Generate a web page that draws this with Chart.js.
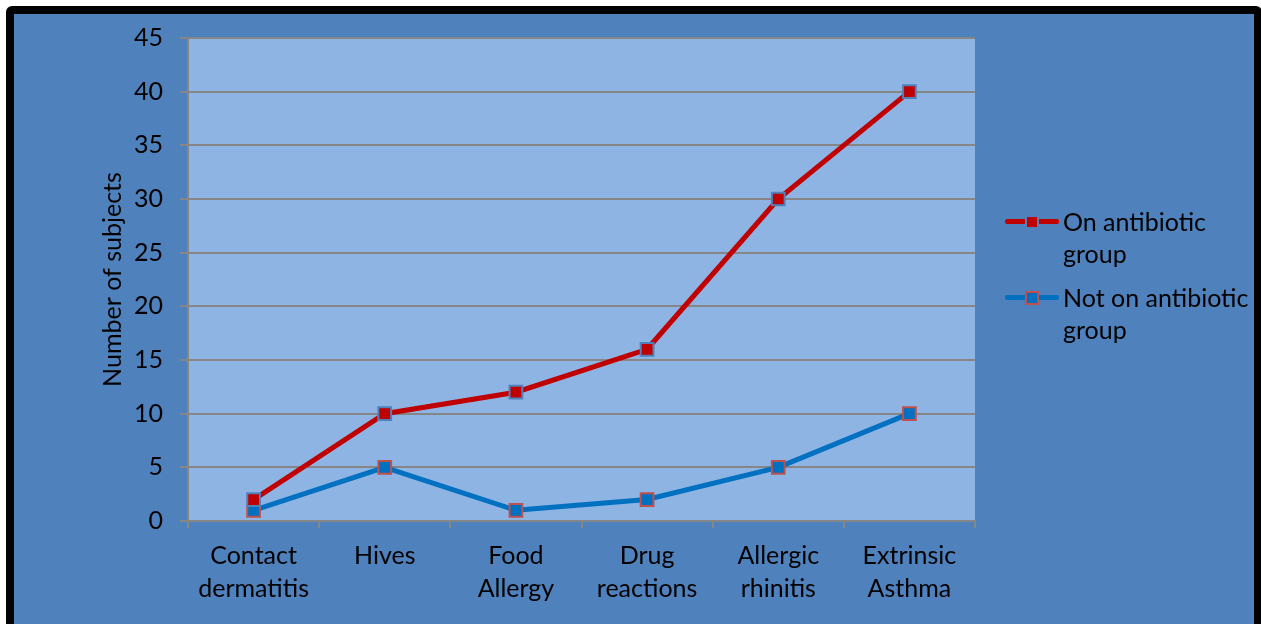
<!DOCTYPE html>
<html>
<head>
<meta charset="utf-8">
<script src="https://cdn.jsdelivr.net/npm/chart.js@4"></script>
<style>
  html, body { margin: 0; padding: 0; background: #fff; overflow: hidden; }
  #frame {
    position: absolute; left: 6px; top: 6px; width: 1256px; height: 650px;
    box-sizing: border-box; border: 8px solid #000; border-radius: 6px;
    background: #4F81BD;
  }
  #wrap { position: absolute; left: 0; top: 0; width: 1261px; height: 624px; }
  #legend {
    position: absolute; left: 1005px; top: 205px;
    font-family: Lato, "Open Sans", sans-serif; font-size: 25px; color: #000;
  }
  .item { position: relative; padding-left: 58px; line-height: 32px; margin-bottom: 12px; white-space: nowrap; }
  .line { position: absolute; left: 0; top: 14px; width: 54px; height: 5px; border-radius: 2px; }
  .box { position: absolute; left: 20px; top: 10px; width: 10px; height: 10px; border: 2px solid; }
</style>
</head>
<body>
<div id="frame"></div>
<div id="wrap"><canvas id="chart" width="1261" height="624"></canvas></div>
<div id="legend"></div>
<script>
// Catégories (axe X)
const categories = [
  ['Contact', 'dermatitis'],
  'Hives',
  ['Food', 'Allergy'],
  ['Drug', 'reactions'],
  ['Allergic', 'rhinitis'],
  ['Extrinsic', 'Asthma']
];

// Séries
const onAntibiotic = [2, 10, 12, 16, 30, 40];
const notOnAntibiotic = [1, 5, 1, 2, 5, 10];

const seriesNames = [['On antibiotic', 'group'], ['Not on antibiotic', 'group']];
const lineColors = ['#C00000', '#0070C0'];
const markerBorders = ['#4F81BD', '#C0504D'];

const yTitle = 'Number of subjects';

// fond de la zone du graphique
const plotBg = {
  id: 'plotBg',
  beforeDraw(chart) {
    const a = chart.chartArea;
    const ctx = chart.ctx;
    ctx.save();
    ctx.fillStyle = '#8EB4E3';
    ctx.fillRect(a.left, a.top, a.right - a.left, a.bottom - a.top);
    ctx.restore();
  }
};

const font = { family: 'Lato, "Open Sans", sans-serif', size: 25 };

const ctx = document.getElementById('chart').getContext('2d');
const chart = new Chart(ctx, {
  type: 'line',
  data: {
    labels: categories,
    datasets: [onAntibiotic, notOnAntibiotic].map((d, i) => ({
      label: seriesNames[i].join(' '),
      data: d,
      borderColor: lineColors[i],
      backgroundColor: lineColors[i],
      borderWidth: 5,
      pointStyle: 'rect',
      pointRadius: 9,
      pointHoverRadius: 9,
      pointBorderWidth: 2,
      pointBorderColor: markerBorders[i],
      pointBackgroundColor: lineColors[i],
      tension: 0
    }))
  },
  options: {
    responsive: false,
    animation: false,
    layout: { padding: { left: 95, top: 38, right: 286, bottom: 0 } },
    plugins: { legend: { display: false }, tooltip: { enabled: false } },
    scales: {
      x: {
        offset: true,
        grid: { offset: true, drawOnChartArea: false, tickLength: 7, color: '#868686', lineWidth: 2 },
        border: { color: '#868686', width: 2 },
        ticks: { color: '#000', font: { ...font, lineHeight: 1.3 }, padding: 12, maxRotation: 0 },
        afterFit(scale) { scale.height = 103; }
      },
      y: {
        min: 0, max: 45,
        ticks: { stepSize: 5, color: '#000', font: font, padding: 17 },
        grid: { color: '#868686', lineWidth: 2, tickLength: 8 },
        border: { color: '#868686', width: 2 },
        title: { display: true, text: yTitle, color: '#000', font: font, padding: { top: 3, bottom: 0 } },
        afterFit(scale) { scale.width = 93; }
      }
    }
  },
  plugins: [plotBg]
});

// légende HTML
const legend = document.getElementById('legend');
seriesNames.forEach((name, i) => {
  const item = document.createElement('div');
  item.className = 'item';
  item.innerHTML = `<span class="line" style="background:${lineColors[i]}"></span>` +
    `<span class="box" style="background:${lineColors[i]};border-color:${markerBorders[i]}"></span>` +
    name.join('<br>');
  legend.appendChild(item);
});
</script>
</body>
</html>
